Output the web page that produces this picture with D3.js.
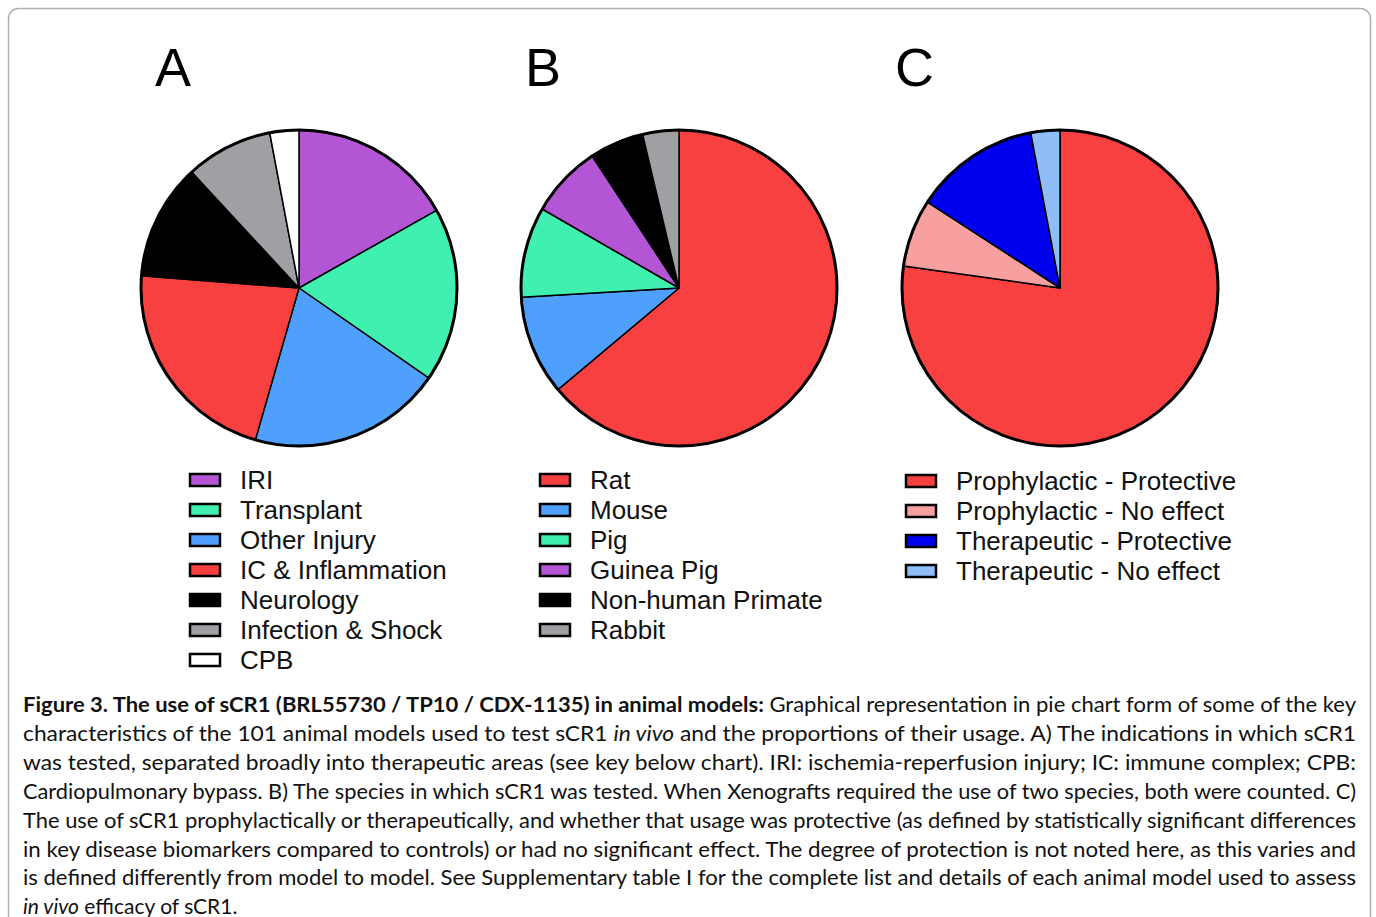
<!DOCTYPE html>
<html>
<head>
<meta charset="utf-8">
<script src="https://cdn.jsdelivr.net/npm/d3@7"></script>
<style>
  body { margin: 0; background: #fff; }
  svg { display: block; }
</style>
</head>
<body>
<div id="chart"></div>
<script>
// Data (counts of animal models)
var indicationLabels = ["IRI", "Transplant", "Other Injury", "IC & Inflammation", "Neurology", "Infection & Shock", "CPB"];
var indicationCounts = [17, 18, 20, 22, 12, 9, 3];
var indicationColours = ["#b455d6", "#40f0b0", "#4f9ffc", "#f84040", "#000000", "#a0a0a4", "#ffffff"];

var speciesLabels = ["Rat", "Mouse", "Pig", "Guinea Pig", "Non-human Primate", "Rabbit"];
var speciesCounts = [69, 11, 10, 8, 6, 4];
var speciesColours = ["#f84040", "#4f9ffc", "#40f0b0", "#b455d6", "#000000", "#a0a0a4"];

var usageLabels = ["Prophylactic - Protective", "Prophylactic - No effect", "Therapeutic - Protective", "Therapeutic - No effect"];
var usageCounts = [78, 7, 13, 3];
var usageColours = ["#f84040", "#f8a0a0", "#0000f0", "#90bcf8"];

var panelLetters = ["A", "B", "C"];

var captionLines = [
  [["b", "Figure 3. The use of sCR1 (BRL55730 / TP10 / CDX-1135) in animal models:"], ["n", " Graphical representation in pie chart form of some of the key"]],
  [["n", "characteristics of the 101 animal models used to test sCR1 "], ["i", "in vivo"], ["n", " and the proportions of their usage. A) The indications in which sCR1"]],
  [["n", "was tested, separated broadly into therapeutic areas (see key below chart). IRI: ischemia-reperfusion injury; IC: immune complex; CPB:"]],
  [["n", "Cardiopulmonary bypass. B) The species in which sCR1 was tested. When Xenografts required the use of two species, both were counted. C)"]],
  [["n", "The use of sCR1 prophylactically or therapeutically, and whether that usage was protective (as defined by statistically significant differences"]],
  [["n", "in key disease biomarkers compared to controls) or had no significant effect. The degree of protection is not noted here, as this varies and"]],
  [["n", "is defined differently from model to model. See Supplementary table I for the complete list and details of each animal model used to assess"]],
  [["i", "in vivo"], ["n", " efficacy of sCR1."]]
];

var width = 1376, height = 917;

var svg = d3.select("#chart").append("svg")
  .attr("width", width)
  .attr("height", height);

// outer frame
svg.append("rect")
  .attr("x", 8.5).attr("y", 8.5)
  .attr("width", 1362).attr("height", 940)
  .attr("rx", 10)
  .attr("fill", "none")
  .attr("stroke", "#b0b0b0")
  .attr("stroke-width", 1.5);

var panels = [
  { cx: 299, letterX: 155, swatchX: 189, textX: 240, legendY: 480, labels: indicationLabels, counts: indicationCounts, colours: indicationColours },
  { cx: 679, letterX: 525, swatchX: 539, textX: 590, legendY: 480, labels: speciesLabels, counts: speciesCounts, colours: speciesColours },
  { cx: 1060, letterX: 895, swatchX: 905, textX: 956, legendY: 481, labels: usageLabels, counts: usageCounts, colours: usageColours }
];

var radius = 158, cy = 288;

var pie = d3.pie().sort(null).value(function(d) { return d; });
var arc = d3.arc().innerRadius(0).outerRadius(radius);

panels.forEach(function(p, i) {
  svg.append("text")
    .attr("x", p.letterX).attr("y", 86)
    .attr("font-family", "Liberation Sans, Arial, sans-serif")
    .attr("font-size", 54)
    .text(panelLetters[i]);

  var g = svg.append("g").attr("transform", "translate(" + p.cx + "," + cy + ")");

  g.selectAll("path")
    .data(pie(p.counts))
    .enter()
    .append("path")
      .attr("d", arc)
      .attr("fill", function(d, j) { return p.colours[j]; })
      .attr("stroke", "#000")
      .attr("stroke-width", 1.5)
      .attr("stroke-linejoin", "round");

  g.append("circle")
    .attr("r", radius)
    .attr("fill", "none")
    .attr("stroke", "#000")
    .attr("stroke-width", 3);

  var y = d3.scaleBand()
    .domain(p.labels)
    .range([p.legendY, p.legendY + 30 * p.labels.length]);

  var legend = svg.append("g");
  var rows = legend.selectAll("g")
    .data(p.labels)
    .enter()
    .append("g")
      .attr("transform", function(d) { return "translate(0," + y(d) + ")"; });

  rows.append("rect")
    .attr("x", p.swatchX + 1).attr("y", -6)
    .attr("width", 30).attr("height", 12)
    .attr("fill", function(d, j) { return p.colours[j]; })
    .attr("stroke", "#000")
    .attr("stroke-width", 2.5);

  rows.append("text")
    .attr("x", p.textX).attr("y", 8.5)
    .attr("font-family", "Liberation Sans, Arial, sans-serif")
    .attr("font-size", 26)
    .attr("fill", "#111")
    .text(function(d) { return d; });
});

// caption, justified line by line
var caption = svg.append("g")
  .attr("font-family", "Lato, 'Open Sans', sans-serif")
  .attr("font-size", 21)
  .attr("fill", "#111");

captionLines.forEach(function(line, i) {
  var t = caption.append("text")
    .attr("x", 23)
    .attr("y", 712 + i * 28.9);
  if (i < captionLines.length - 1) {
    t.attr("textLength", 1333).attr("lengthAdjust", "spacingAndGlyphs");
  }
  line.forEach(function(seg) {
    var s = t.append("tspan").text(seg[1]);
    if (seg[0] === "b") s.attr("font-weight", "bold");
    if (seg[0] === "i") s.attr("font-style", "italic");
  });
});
</script>
</body>
</html>
